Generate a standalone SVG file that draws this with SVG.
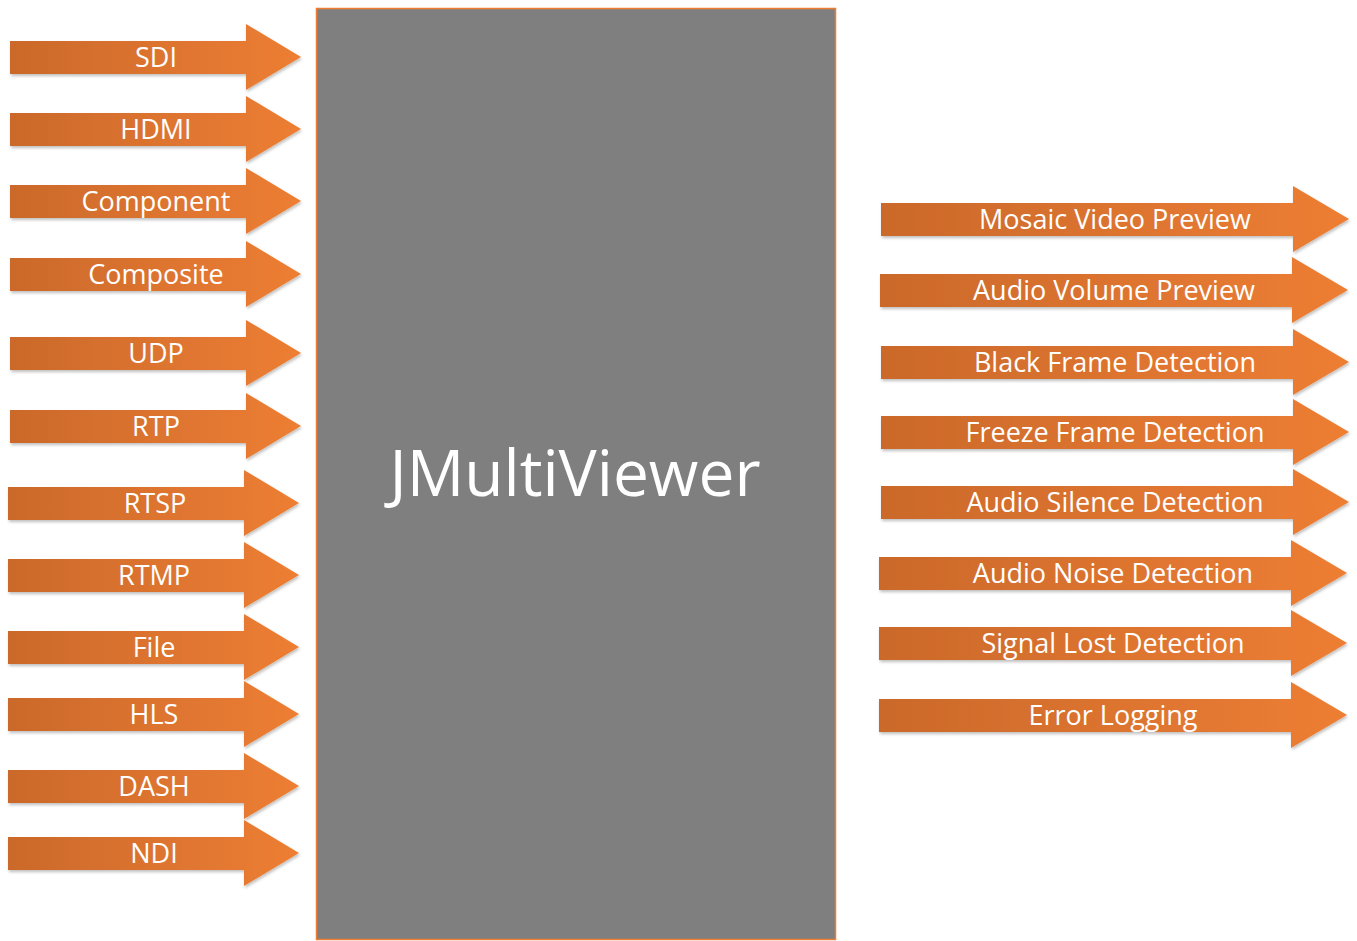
<svg xmlns="http://www.w3.org/2000/svg" width="1357" height="941" viewBox="0 0 1357 941">
<defs>
<linearGradient id="og" x1="0" y1="0" x2="1" y2="0">
<stop offset="0" stop-color="#cb692b"/>
<stop offset="1" stop-color="#ed7e33"/>
</linearGradient>
<filter id="sh" x="-5%" y="-20%" width="110%" height="150%">
<feDropShadow dx="1" dy="2" stdDeviation="1.5" flood-color="#000" flood-opacity="0.25"/>
</filter>
</defs>
<style>
.arr{fill:url(#og);filter:url(#sh)}
.lbl{font-family:"Open Sans","DejaVu Sans",sans-serif;font-size:27px;fill:#fff;text-anchor:middle}
.big{font-family:"Open Sans","DejaVu Sans",sans-serif;font-size:64px;fill:#fff;text-anchor:middle}
</style>
<rect width="1357" height="941" fill="#fff"/>
<g id="jmultiviewer">
<rect x="316.5" y="8.5" width="519" height="931" fill="#7f7f7f" stroke="#ed7d31" stroke-width="1.5"/>
<text class="big" x="575" y="496">JMultiViewer</text>
</g>
<g id="inputs">
<g id="in-sdi"><path class="arr" d="M10 41H246V24L301 57L246 90V74H10Z"/><text class="lbl" x="156" y="67">SDI</text></g>
<g id="in-hdmi"><path class="arr" d="M10 113H246V96L301 129L246 162V146H10Z"/><text class="lbl" x="156" y="139">HDMI</text></g>
<g id="in-component"><path class="arr" d="M10 185H246V168L301 201L246 234V218H10Z"/><text class="lbl" x="156" y="211">Component</text></g>
<g id="in-composite"><path class="arr" d="M10 258H246V241L301 274L246 307V291H10Z"/><text class="lbl" x="156" y="284">Composite</text></g>
<g id="in-udp"><path class="arr" d="M10 337H246V320L301 353L246 386V370H10Z"/><text class="lbl" x="156" y="363">UDP</text></g>
<g id="in-rtp"><path class="arr" d="M10 410H246V393L301 426L246 459V443H10Z"/><text class="lbl" x="156" y="436">RTP</text></g>
<g id="in-rtsp"><path class="arr" d="M8 487H244V470L299 503L244 536V520H8Z"/><text class="lbl" x="155" y="513">RTSP</text></g>
<g id="in-rtmp"><path class="arr" d="M8 559H244V542L299 575L244 608V592H8Z"/><text class="lbl" x="154" y="585">RTMP</text></g>
<g id="in-file"><path class="arr" d="M8 631H244V614L299 647L244 680V664H8Z"/><text class="lbl" x="154" y="657">File</text></g>
<g id="in-hls"><path class="arr" d="M8 698H244V681L299 714L244 747V731H8Z"/><text class="lbl" x="154" y="724">HLS</text></g>
<g id="in-dash"><path class="arr" d="M8 770H244V753L299 786L244 819V803H8Z"/><text class="lbl" x="154" y="796">DASH</text></g>
<g id="in-ndi"><path class="arr" d="M8 837H244V820L299 853L244 886V870H8Z"/><text class="lbl" x="154" y="863">NDI</text></g>
</g>
<g id="outputs">
<g id="out-mosaic"><path class="arr" d="M881 203H1293V186L1349 219L1293 252V236H881Z"/><text class="lbl" x="1115" y="229">Mosaic Video Preview</text></g>
<g id="out-volume"><path class="arr" d="M880 274H1292V257L1348 290L1292 323V307H880Z"/><text class="lbl" x="1114" y="300">Audio Volume Preview</text></g>
<g id="out-black"><path class="arr" d="M881 346H1293V329L1349 362L1293 395V379H881Z"/><text class="lbl" x="1115" y="372">Black Frame Detection</text></g>
<g id="out-freeze"><path class="arr" d="M881 416H1293V399L1349 432L1293 465V449H881Z"/><text class="lbl" x="1115" y="442">Freeze Frame Detection</text></g>
<g id="out-silence"><path class="arr" d="M881 486H1293V469L1349 502L1293 535V519H881Z"/><text class="lbl" x="1115" y="512">Audio Silence Detection</text></g>
<g id="out-noise"><path class="arr" d="M879 557H1291V540L1347 573L1291 606V590H879Z"/><text class="lbl" x="1113" y="583">Audio Noise Detection</text></g>
<g id="out-signal"><path class="arr" d="M879 627H1291V610L1347 643L1291 676V660H879Z"/><text class="lbl" x="1113" y="653">Signal Lost Detection</text></g>
<g id="out-error"><path class="arr" d="M879 699H1291V682L1347 715L1291 748V732H879Z"/><text class="lbl" x="1113" y="725">Error Logging</text></g>
</g>
</svg>
